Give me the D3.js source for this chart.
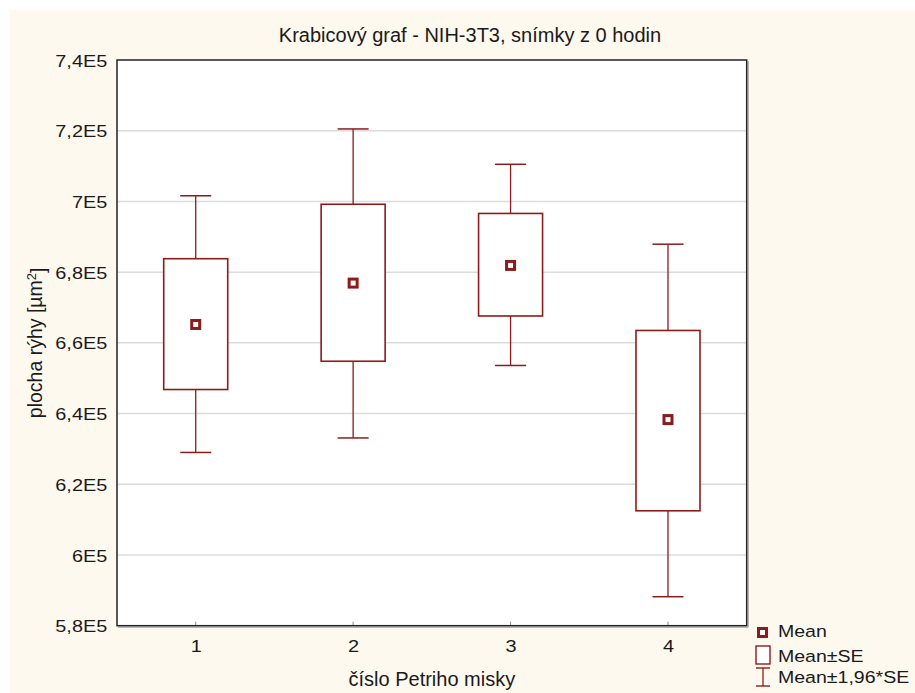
<!DOCTYPE html>
<html>
<head>
<meta charset="utf-8">
<script src="https://cdn.jsdelivr.net/npm/d3@7"></script>
<style>
  html, body { margin: 0; padding: 0; background: #ffffff; }
  svg { display: block; }
  text { font-family: "Liberation Sans", Arial, sans-serif; fill: #1a1a1a; }
</style>
</head>
<body>
<svg id="chart" width="915" height="693"></svg>
<script>
// ---- data ----
const categories = ["1", "2", "3", "4"];
const means  = [665200, 676900, 681900, 638300];
const seLow  = [646800, 654800, 667600, 612500];
const seHigh = [683800, 699200, 696600, 663500];
const ciLow  = [629000, 633100, 653600, 588200];
const ciHigh = [701600, 720500, 710500, 687900];
const yTickValues = [580000, 600000, 620000, 640000, 660000, 680000, 700000, 720000, 740000];
const yTickLabels = ["5,8E5", "6E5", "6,2E5", "6,4E5", "6,6E5", "6,8E5", "7E5", "7,2E5", "7,4E5"];
const titleText = "Krabicový graf - NIH-3T3, snímky z 0 hodin";
const xTitle = "číslo Petriho misky";
const legendLabels = ["Mean", "Mean±SE", "Mean±1,96*SE"];

// ---- layout ----
const W = 915, H = 693;
const plot = { left: 117, top: 60, right: 746.7, bottom: 625.7 };
const red = "#8c1c1c";
const stretch = 1.17;

const svg = d3.select("#chart");

// cream background panel
svg.append("rect").attr("x", 10).attr("y", 10).attr("width", W - 10).attr("height", H - 10)
  .attr("fill", "#fef9ef");

const x = d3.scalePoint().domain(categories).range([plot.left, plot.right]).padding(0.5);
const y = d3.scaleLinear().domain([580000, 740000]).range([plot.bottom, plot.top]);

// plot area
svg.append("rect")
  .attr("x", plot.left).attr("y", plot.top)
  .attr("width", plot.right - plot.left).attr("height", plot.bottom - plot.top)
  .attr("fill", "#ffffff");

// gridlines
svg.append("g").selectAll("line").data(yTickValues.slice(1, -1)).join("line")
  .attr("x1", plot.left).attr("x2", plot.right)
  .attr("y1", d => y(d)).attr("y2", d => y(d))
  .attr("stroke", "#dcdcdc").attr("stroke-width", 1.5);

// y axis
const yAxis = d3.axisLeft(y).tickValues(yTickValues)
  .tickFormat((d, i) => yTickLabels[i]).tickSize(0).tickPadding(0);
const gy = svg.append("g").attr("transform", `translate(${plot.left},0)`).call(yAxis);
gy.select(".domain").remove();
gy.selectAll("text")
  .attr("x", null).attr("dy", "0.36em")
  .attr("text-anchor", "end")
  .attr("transform", `translate(-9.7,0) scale(${stretch},1)`)
  .style("font-family", "'Liberation Sans', Arial, sans-serif")
  .style("font-size", "17px").attr("fill", "#1a1a1a");

// x axis
const xAxis = d3.axisBottom(x).tickSize(0).tickPadding(0);
const gx = svg.append("g").attr("transform", `translate(0,${plot.bottom})`).call(xAxis);
gx.select(".domain").remove();
gx.selectAll("text")
  .attr("y", null).attr("dy", null)
  .attr("text-anchor", "middle")
  .attr("transform", `translate(0,26) scale(${stretch},1)`)
  .style("font-family", "'Liberation Sans', Arial, sans-serif")
  .style("font-size", "17px").attr("fill", "#1a1a1a");
// small inner tick marks at bottom
svg.append("g").selectAll("line").data(categories).join("line")
  .attr("x1", d => x(d)).attr("x2", d => x(d))
  .attr("y1", plot.bottom).attr("y2", plot.bottom - 4)
  .attr("stroke", "#888").attr("stroke-width", 1);

// frame
svg.append("path")
  .attr("d", `M${plot.right + 1.5},${plot.top + 1} V${plot.bottom + 1.5} H${plot.left + 1}`)
  .attr("fill", "none").attr("stroke", "#9a9a9a").attr("stroke-width", 1);
svg.append("rect")
  .attr("x", plot.left).attr("y", plot.top)
  .attr("width", plot.right - plot.left).attr("height", plot.bottom - plot.top)
  .attr("fill", "none").attr("stroke", "#222").attr("stroke-width", 1.5);

// boxes
const boxW = 64, capW = 31;
const g = svg.append("g");
categories.forEach((c, i) => {
  const cx = x(c);
  // whiskers
  g.append("line").attr("x1", cx).attr("x2", cx).attr("y1", y(ciHigh[i])).attr("y2", y(seHigh[i]))
    .attr("stroke", red).attr("stroke-width", 1.3);
  g.append("line").attr("x1", cx).attr("x2", cx).attr("y1", y(seLow[i])).attr("y2", y(ciLow[i]))
    .attr("stroke", red).attr("stroke-width", 1.3);
  g.append("line").attr("x1", cx - capW / 2).attr("x2", cx + capW / 2)
    .attr("y1", y(ciHigh[i])).attr("y2", y(ciHigh[i])).attr("stroke", red).attr("stroke-width", 1.5);
  g.append("line").attr("x1", cx - capW / 2).attr("x2", cx + capW / 2)
    .attr("y1", y(ciLow[i])).attr("y2", y(ciLow[i])).attr("stroke", red).attr("stroke-width", 1.5);
  // SE box
  g.append("rect").attr("x", cx - boxW / 2).attr("y", y(seHigh[i]))
    .attr("width", boxW).attr("height", y(seLow[i]) - y(seHigh[i]))
    .attr("fill", "#ffffff").attr("stroke", red).attr("stroke-width", 1.6);
  // mean marker
  g.append("rect").attr("x", cx - 4).attr("y", y(means[i]) - 4).attr("width", 8).attr("height", 8)
    .attr("fill", "#ffffff").attr("stroke", red).attr("stroke-width", 3);
});

// title
svg.append("text").attr("x", 470).attr("y", 41.5).attr("text-anchor", "middle")
  .style("font-size", "20px").text(titleText);

// x title
svg.append("text").attr("x", (plot.left + plot.right) / 2).attr("y", 686).attr("text-anchor", "middle")
  .style("font-size", "20px").text(xTitle);

// y title with superscript
const yt = svg.append("text")
  .attr("transform", `translate(42,${(plot.top + plot.bottom) / 2}) rotate(-90)`)
  .attr("text-anchor", "middle").style("font-size", "19.5px");
yt.append("tspan").text("plocha rýhy [µm");
yt.append("tspan").attr("dy", "-0.45em").style("font-size", "13px").text("2");
yt.append("tspan").attr("dy", "0.45em").text("]");

// legend
const lg = svg.append("g");
lg.append("rect").attr("x", 758.5).attr("y", 628.5).attr("width", 8).attr("height", 8)
  .attr("fill", "#ffffff").attr("stroke", red).attr("stroke-width", 3);
lg.append("rect").attr("x", 756).attr("y", 646).attr("width", 14).attr("height", 18)
  .attr("fill", "#ffffff").attr("stroke", red).attr("stroke-width", 1.4);
lg.append("line").attr("x1", 763).attr("x2", 763).attr("y1", 668).attr("y2", 686)
  .attr("stroke", red).attr("stroke-width", 1.3);
lg.append("line").attr("x1", 756).attr("x2", 770).attr("y1", 668).attr("y2", 668)
  .attr("stroke", red).attr("stroke-width", 1.4);
lg.append("line").attr("x1", 756).attr("x2", 770).attr("y1", 686).attr("y2", 686)
  .attr("stroke", red).attr("stroke-width", 1.4);
const legendY = [637.3, 661.7, 683.3];
lg.selectAll("text.leg").data(legendLabels).join("text").attr("class", "leg")
  .attr("transform", (d, i) => `translate(778,${legendY[i]}) scale(1.15,1)`)
  .style("font-size", "17px").text(d => d);
</script>
</body>
</html>
